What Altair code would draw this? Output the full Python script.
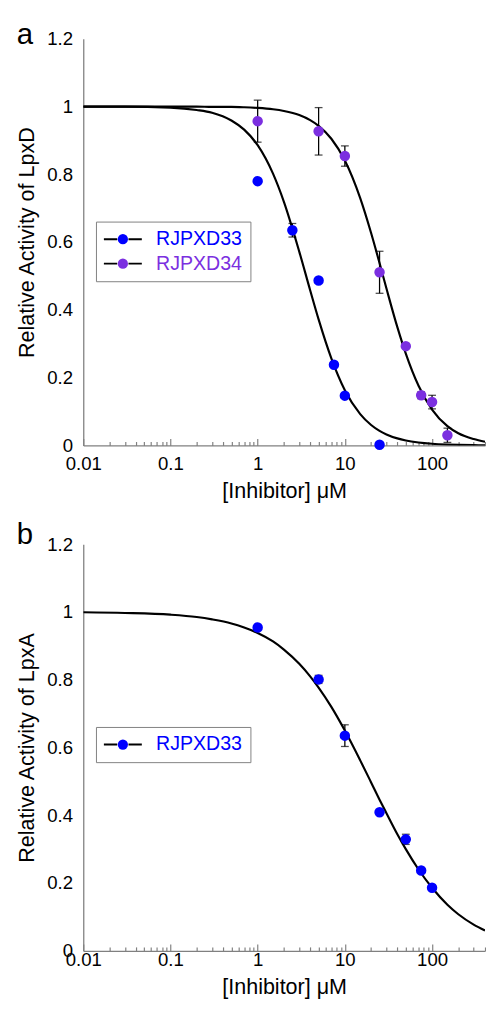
import altair as alt
import pandas as pd

FONT = "Liberation Sans"
BLUE = "#0000ff"
PURPLE = "#7b2fe0"
GRAY = "#808080"

# ---------------- data ----------------
series_a = ["RJPXD33", "RJPXD34"]
series_b = ["RJPXD33"]

# panel a measured points
a33_x = [1, 2.5, 5, 7.5, 10, 25]
a33_y = [0.78, 0.635, 0.487, 0.238, 0.147, 0.002]
a33_err = [0, 0.02, 0, 0, 0, 0]
a34_x = [1, 5, 10, 25, 50, 75, 100, 150]
a34_y = [0.957, 0.927, 0.854, 0.511, 0.293, 0.148, 0.128, 0.030]
a34_err = [0.062, 0.07, 0.03, 0.062, 0, 0.01, 0.02, 0.021]

# fitted curves
curve_x = [0.01, 0.03, 0.1, 0.2, 0.3, 0.5, 0.7, 1, 1.5, 2, 3, 4, 5, 7, 10, 15,
           20, 25, 30, 40, 50, 70, 100, 150, 200, 300, 405]
a33_curve = [1.0, 1.0, 0.997, 0.990, 0.982, 0.959, 0.932, 0.886, 0.802, 0.719,
             0.572, 0.458, 0.372, 0.257, 0.163, 0.0925, 0.0604, 0.0431, 0.0326,
             0.0208, 0.0146, 0.0086, 0.0049, 0.0026, 0.0016, 0.0008, 0.0005]
a34_curve = [1.0, 1.0, 1.0, 1.0, 0.999, 0.999, 0.998, 0.996, 0.992, 0.987,
             0.975, 0.960, 0.943, 0.905, 0.841, 0.730, 0.627, 0.538, 0.463,
             0.349, 0.271, 0.176, 0.106, 0.057, 0.036, 0.019, 0.011]

# panel b measured points
b33_x = [1, 5, 10, 25, 50, 75, 100]
b33_y = [0.954, 0.801, 0.635, 0.409, 0.329, 0.237, 0.186]
b33_err = [0, 0.012, 0.032, 0, 0.015, 0, 0]
b33_curve = [0.999, 0.997, 0.992, 0.985, 0.978, 0.966, 0.954, 0.938, 0.913,
             0.889, 0.847, 0.810, 0.777, 0.720, 0.650, 0.562, 0.497, 0.446,
             0.406, 0.344, 0.300, 0.240, 0.186, 0.136, 0.108, 0.0775, 0.060]

x_ticks = [0.01, 0.02, 0.03, 0.04, 0.05, 0.06, 0.07, 0.08, 0.09,
           0.1, 0.2, 0.3, 0.4, 0.5, 0.6, 0.7, 0.8, 0.9,
           1, 2, 3, 4, 5, 6, 7, 8, 9,
           10, 20, 30, 40, 50, 60, 70, 80, 90,
           100, 200, 300, 400]
x_major = [0.01, 0.1, 1, 10, 100]
y_ticks = [0, 0.2, 0.4, 0.6, 0.8, 1.0, 1.2]


def points_df(xs, ys, errs, name):
    return pd.DataFrame({"x": xs, "y": ys, "err": errs, "series": name})


def curve_df(ys, name):
    return pd.DataFrame({"x": curve_x, "y": ys, "lseries": name})


major_list = ",".join(str(v) for v in x_major)


def panel(letter, ytitle, pts, curves, names, colors, letter_y, xlab_pad, xtitle_pad):
    x_scale = alt.Scale(type="log", domain=[0.01, 405], nice=False)
    y_scale = alt.Scale(domain=[0, 1.2], nice=False)
    x_axis = alt.Axis(
        values=x_ticks, format="~g",
        labelExpr=f"indexof([{major_list}], datum.value) >= 0 ? datum.label : ''",
        tickSize=alt.ExprRef(expr=f"indexof([{major_list}], datum.value) >= 0 ? -7 : -4"),
        tickColor=GRAY, tickWidth=1.2, domainColor=GRAY, domainWidth=1.3,
        labelPadding=xlab_pad, labelFlush=False, labelOverlap=False,
        labelFontSize=19, titleFontSize=22, titlePadding=xtitle_pad, grid=False,
    )
    y_axis = alt.Axis(
        values=y_ticks, format="~g", ticks=False, labelPadding=11,
        domainColor=GRAY, domainWidth=1.3, labelFontSize=19,
        titleFontSize=22, titlePadding=9, grid=False,
    )
    X = alt.X("x:Q", scale=x_scale, axis=x_axis, title="[Inhibitor] μM")
    Y = alt.Y("y:Q", scale=y_scale, axis=y_axis, title=ytitle)

    common_leg = dict(orient="none", legendX=13, legendY=187, title=None,
                      symbolSize=110, symbolOffset=9.5, labelOffset=24,
                      labelFontSize=20, labelFont=FONT, padding=8, rowPadding=5)

    line_leg = alt.Legend(symbolType="M-3.7,0L-1.1,0M1.1,0L3.7,0",
                          symbolStrokeColor="black", symbolStrokeWidth=2,
                          labelOpacity=0, strokeColor=GRAY, **common_leg)
    pt_leg = alt.Legend(symbolType="circle", symbolStrokeWidth=0, symbolOpacity=1,
                        labelColor={"expr": f"datum.label == 'RJPXD33' ? '{BLUE}' : '{PURPLE}'"},
                        **common_leg)

    curve = alt.Chart(curves).mark_line(clip=True, strokeWidth=2.2, interpolate="monotone").encode(
        x=X, y=Y,
        stroke=alt.Stroke("lseries:N", scale=alt.Scale(range=["black", "black"]), legend=line_leg),
    )
    err = pts[pts["err"] > 0].copy()
    err["lo"] = err["y"] - err["err"]
    err["hi"] = err["y"] + err["err"]
    rule = alt.Chart(err).mark_rule(color="black", strokeWidth=1.3).encode(
        x="x:Q", y="lo:Q", y2="hi:Q")
    cap_lo = alt.Chart(err).mark_tick(color="black", orient="horizontal", size=8, thickness=1.3).encode(
        x="x:Q", y="lo:Q")
    cap_hi = alt.Chart(err).mark_tick(color="black", orient="horizontal", size=8, thickness=1.3).encode(
        x="x:Q", y="hi:Q")
    points = alt.Chart(pts).mark_circle(size=115, opacity=1).encode(
        x="x:Q", y="y:Q",
        color=alt.Color("series:N", scale=alt.Scale(domain=names, range=colors), legend=pt_leg),
    )
    tag = alt.Chart(pd.DataFrame({"tag": [letter]})).mark_text(
        font=FONT, fontSize=30, align="left", baseline="alphabetic", color="black"
    ).encode(text="tag:N", x=alt.value(-68), y=alt.value(letter_y))
    return alt.layer(curve, rule, cap_lo, cap_hi, points, tag).properties(
        width=411, height=416,
    )


pts_a = pd.concat([points_df(a33_x, a33_y, a33_err, "RJPXD33"),
                   points_df(a34_x, a34_y, a34_err, "RJPXD34")], ignore_index=True)
curves_a = pd.concat([curve_df(a33_curve, "RJPXD33"), curve_df(a34_curve, "RJPXD34")],
                     ignore_index=True)
pts_b = points_df(b33_x, b33_y, b33_err, "RJPXD33")
curves_b = curve_df(b33_curve, "RJPXD33")

pa = panel("a", "Relative Activity of LpxD", pts_a, curves_a, series_a, [BLUE, PURPLE], 5.5, 17, 4)
pb = panel("b", "Relative Activity of LpxA", pts_b, curves_b, series_b, [BLUE], 0, 7.5, 4)

chart = alt.vconcat(pa, pb, spacing=20).resolve_scale(
    color="independent", stroke="independent"
).properties(
    padding={"left": 7, "top": 1, "right": 0, "bottom": 0}
).configure(font=FONT).configure_view(stroke=None).configure_axis(
    labelFont=FONT, titleFont=FONT, labelColor="black", titleColor="black",
    titleFontWeight="normal",
)

chart.save("out.html", embed_options={"renderer": "svg", "actions": False})
